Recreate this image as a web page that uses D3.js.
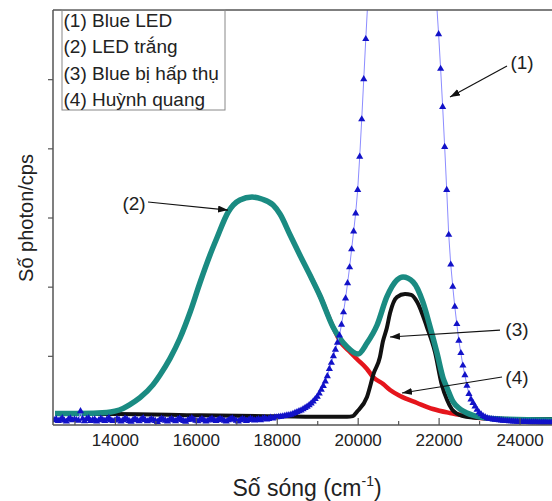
<!DOCTYPE html>
<html><head><meta charset="utf-8">
<script src="https://cdn.jsdelivr.net/npm/d3@7"></script>
<style>
body{margin:0;background:#fff}
svg{display:block}
text{font-family:"Liberation Sans",Arial,Helvetica,sans-serif;fill:#222}
</style>
</head><body>
<svg id="chart" width="552" height="501"></svg>
<script>
// ---------- DATA ----------
// (1) Blue LED: uniformly sampled spectrum (start, step in cm-1) + read values
const blueStart = 12500, blueStep = 50;
const blueValues = [
  70,85,58,76,100,65,50,82,95,68,
  80,72,62,200,90,55,87,98,60,74,
  82,50,68,93,76,59,80,102,71,57,
  65,88,78,52,70,95,83,60,49,74,
  90,68,56,80,98,72,54,67,86,75,
  58,45,70,92,81,63,52,76,89,68,
  55,80,96,74,60,48,72,85,100,78,
  62,54,76,90,69,51,65,83,94,71,
  57,73,88,80,62,50,68,86,97,76,
  64,53,71,89,78,60,72,91,82,67,
  75,84,70,92,100,81,88,105,96,110,
  112,116,120,126,132,138,
  142,150,162,175,188,200,212,228,248,265,288,313,340,375,
  410,455,510,565,630,705,810,900,995,1090,1190,1295,1450,1630,1830,2050,2280,2540,2800,3060,
  3400,3880,4420,5000,5580,6130,6700,7250,7750,8250,8750,9200,9600,9950,10300,10600,10850,11050,11250,11400,
  11480,11500,11500,11480,11400,11250,11050,10850,10600,10300,9950,9600,9200,8750,8250,7750,7350,6950,6500,6100,
  5650,5150,4600,4020,3400,2750,2320,2000,1710,1460,1220,1040,860,720,570,450,370,320,270,220,
  180,155,130,115,100,90,
  86,82,78,74,70,67,64,61,58,56,54,52,50,49,47,46,45,44,43,42,41,40,40,39,38,38,37,37,36,36,35
];
// (2) LED trắng  [wavenumber, counts]
const whiteWn  = [12520,13140,13800,14000,14200,14370,14620,14940,15110,15360,15610,15860,16100,16350,16520,16800,17090,17390,17630,17910,18080,18330,18570,18820,19070,19390,19740,20010,20230,20480,20720,20970,21120,21370,21610,21790,21960,22110,22210,22360,22530,22700,23020,23520,24800];
const whiteVal = [165,165,180,200,240,295,395,580,720,960,1258,1634,2053,2458,2703,3079,3253,3296,3267,3180,3050,2747,2458,2168,1865,1417,1128,1026,1185,1446,1851,2096,2140,2068,1779,1417,1041,680,535,333,231,173,116,87,72];
// (3) Blue bị hấp thụ
const absWn  = [12520,14000,16100,18080,19320,19740,19880,19980,20230,20400,20550,20620,20720,20800,20970,21170,21320,21470,21710,21910,22080,22210,22330,22450,22600,23020,24010,24800];
const absVal = [160,160,140,125,118,118,128,190,405,752,983,1200,1402,1619,1850,1894,1880,1778,1417,1055,578,361,225,165,130,101,87,87];
// (4) Huỳnh quang
const fluoWn  = [18820,19070,19390,19560,19810,19980,20230,20380,20630,20800,21050,21470,21860,22280,22700,23020,23500];
const fluoVal = [2168,1865,1417,1214,1055,954,810,694,593,506,419,318,231,173,130,101,87];

const xMajorTicks = [14000,16000,18000,20000,22000,24000];
const xMinorTicks = [13000,15000,17000,19000,21000,23000];
const yTicks = [1000,2000,3000,4000,5000];
const legendLabels = ["(1) Blue LED","(2) LED trắng","(3) Blue bị hấp thụ","(4) Huỳnh quang"];
const annLabels = ["(1)","(2)","(3)","(4)"];
const annText = [[24061,5248],[14472,3209],[23937,1388],[23937,694]];
const annTail = [[23690,5190],[14818,3224],[23517,1373],[23567,694]];
const annHead = [[22282,4742],[16795,3108],[20799,1272],[21095,463]];

// ---------- CHART ----------
const svg = d3.select("#chart");
const L = 53, T = 10, B = 425, R = 560;
const x = d3.scaleLinear().domain([12470, 25000]).range([L, R]);
const y = d3.scaleLinear().domain([0, 6000]).range([B, T]);

const defs = svg.append("defs");
defs.append("clipPath").attr("id","plotclip").append("rect")
  .attr("x",L).attr("y",T).attr("width",R-L).attr("height",B-T);
defs.append("marker").attr("id","arrow").attr("markerUnits","userSpaceOnUse")
  .attr("viewBox","0 0 10 7").attr("refX",10).attr("refY",3.5)
  .attr("markerWidth",10).attr("markerHeight",7).attr("orient","auto")
  .append("path").attr("d","M0,0L10,3.5L0,7Z").attr("fill","#111");

const plot = svg.append("g").attr("clip-path","url(#plotclip)");

const blue = blueValues.map((v,i)=>[blueStart + i*blueStep, v]);
const white = whiteWn.map((w,i)=>[w, whiteVal[i]]);
const absorbed = absWn.map((w,i)=>[w, absVal[i]]);
const fluo = fluoWn.map((w,i)=>[w, fluoVal[i]]);

const smooth = d3.line().x(d=>x(d[0])).y(d=>y(d[1])).curve(d3.curveMonotoneX);
const lin = d3.line().x(d=>x(d[0])).y(d=>y(d[1]));

plot.append("path").datum(fluo).attr("d",smooth)
  .attr("fill","none").attr("stroke","#e5151c").attr("stroke-width",4.5);
plot.append("path").datum(absorbed).attr("d",smooth)
  .attr("fill","none").attr("stroke","#111").attr("stroke-width",4);
plot.append("path").datum(white).attr("d",smooth)
  .attr("fill","none").attr("stroke","#1a8b82").attr("stroke-width",5.5);
plot.append("path").datum(blue).attr("d",lin)
  .attr("fill","none").attr("stroke","#8c8cff").attr("stroke-width",1);
const tri = d3.symbol().type(d3.symbolTriangle).size(22);
plot.selectAll("path.bt").data(blue).join("path").attr("class","bt")
  .attr("d",tri).attr("transform",d=>`translate(${x(d[0])},${y(d[1])})`)
  .attr("fill","#1212c8");

// axes
const axisColor = "#555";
const ga = svg.append("g").attr("transform",`translate(0,${B})`)
  .call(d3.axisBottom(x).tickValues(xMajorTicks).tickSizeInner(-7).tickSizeOuter(0).tickPadding(9).tickFormat(d3.format("d")));
ga.select(".domain").remove();
ga.selectAll(".tick line").attr("stroke",axisColor).attr("stroke-width",1.2);
ga.selectAll(".tick text").attr("font-size",17).attr("fill","#222")
  .style("font-family","'Liberation Sans',Arial,sans-serif");
const gm = svg.append("g").attr("transform",`translate(0,${B})`)
  .call(d3.axisBottom(x).tickValues(xMinorTicks).tickSizeInner(-4).tickSizeOuter(0).tickFormat(""));
gm.select(".domain").remove();
gm.selectAll(".tick line").attr("stroke",axisColor).attr("stroke-width",1.2);

const gy = svg.append("g").attr("transform",`translate(${L},0)`)
  .call(d3.axisLeft(y).tickValues(yTicks).tickSizeInner(5).tickSizeOuter(0).tickFormat(""));
gy.select(".domain").remove();
gy.selectAll(".tick line").attr("stroke",axisColor).attr("stroke-width",1.2);

svg.append("line").attr("x1",L).attr("x2",552).attr("y1",B).attr("y2",B).attr("stroke",axisColor).attr("stroke-width",1.5);
svg.append("line").attr("x1",L).attr("x2",552).attr("y1",T).attr("y2",T).attr("stroke",axisColor).attr("stroke-width",1.5);
svg.append("line").attr("x1",L).attr("x2",L).attr("y1",T).attr("y2",B).attr("stroke",axisColor).attr("stroke-width",1.5);

// axis titles
svg.append("text").attr("transform","translate(33,218) rotate(-90)")
  .attr("text-anchor","middle").attr("font-size",20).text("Số photon/cps");
const xt = svg.append("text").attr("x",307).attr("y",496).attr("text-anchor","middle").attr("font-size",23);
xt.append("tspan").text("Số sóng (cm");
xt.append("tspan").attr("dy",-10).attr("font-size",14).text("-1");
xt.append("tspan").attr("dy",10).text(")");

// legend
const lg = svg.append("g");
lg.append("rect").attr("x",62).attr("y",9.5).attr("width",163).attr("height",100.5)
  .attr("fill","none").attr("stroke","#888").attr("stroke-width",1);
lg.selectAll("text").data(legendLabels).join("text")
  .attr("x",63.5).attr("y",(d,i)=>27+i*26.3).attr("font-size",19).text(d=>d);

// annotations
annLabels.forEach((lab,i)=>{
  svg.append("line")
    .attr("x1",x(annTail[i][0])).attr("y1",y(annTail[i][1]))
    .attr("x2",x(annHead[i][0])).attr("y2",y(annHead[i][1]))
    .attr("stroke","#111").attr("stroke-width",1.2).attr("marker-end","url(#arrow)");
  svg.append("text").attr("x",x(annText[i][0])).attr("y",y(annText[i][1]))
    .attr("dy","0.36em").attr("text-anchor","middle").attr("font-size",19).text(lab);
});
</script>
</body></html>
